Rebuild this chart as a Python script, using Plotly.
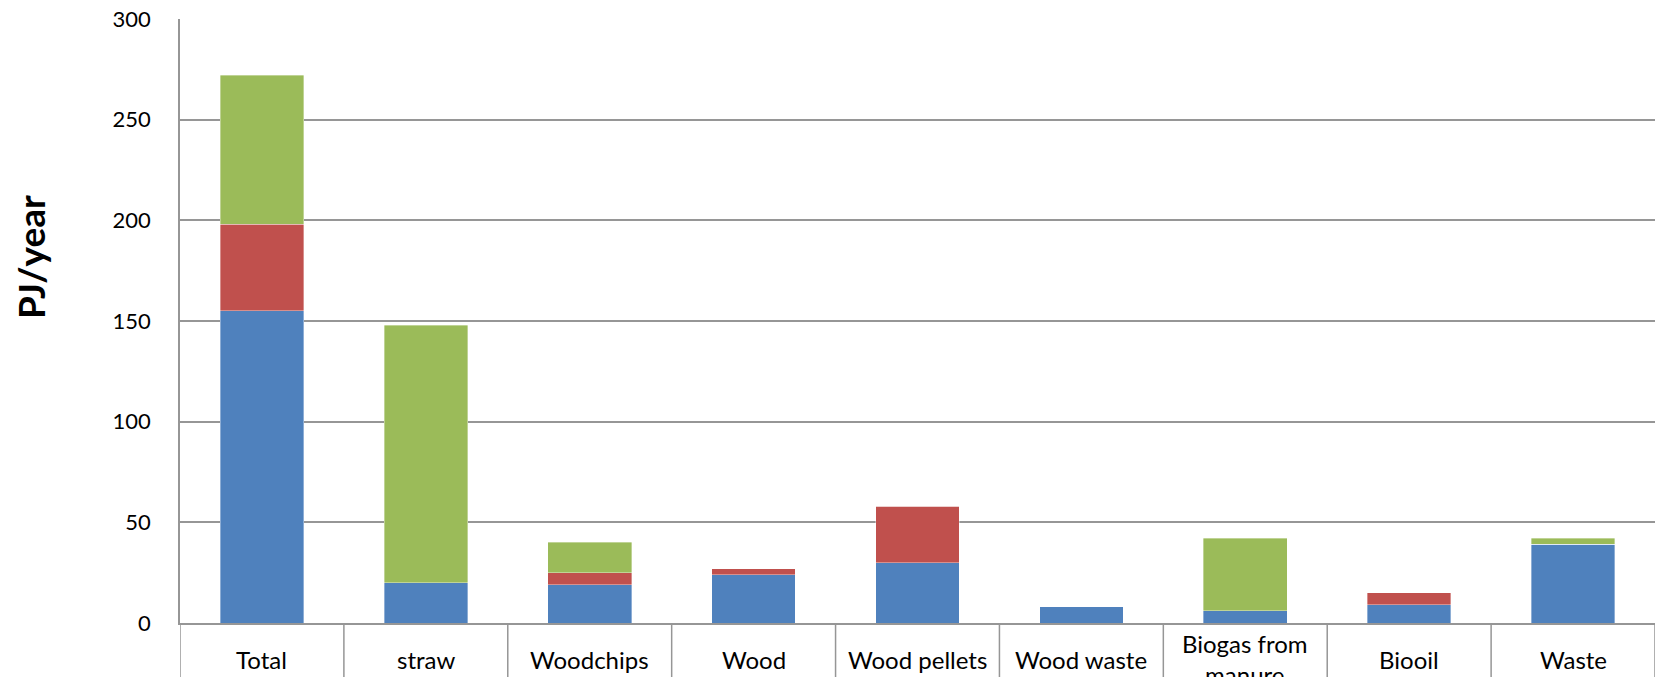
import plotly.graph_objects as go

categories = ["Total", "straw", "Woodchips", "Wood", "Wood pellets",
              "Wood waste", "Biogas from<br>manure", "Biooil", "Waste"]
series_blue = [155, 20, 19, 24, 30, 8, 6, 9, 39]
series_red = [43, 0, 6, 3, 28, 0, 0, 6, 0]
series_green = [74, 128, 15, 0, 0, 0, 36, 0, 3]
y_ticks = [0, 50, 100, 150, 200, 250, 300]

FONT = "Lato, 'Open Sans', sans-serif"
GRID = "#969696"
W, H = 1661, 677
ML, MR, MT, MB = 180, 6, 19, 54

x_idx = list(range(len(categories)))

fig = go.Figure()
for name, vals, color in [("Series 1", series_blue, "#4F81BD"),
                          ("Series 2", series_red, "#C0504D"),
                          ("Series 3", series_green, "#9BBB59")]:
    fig.add_trace(go.Bar(
        x=x_idx, y=vals, name=name, width=0.51,
        marker=dict(color=color, line=dict(color="rgba(255,255,255,0.6)", width=0.6)),
    ))

# category table cells below the axis
shapes = []
cell_depth = 60 / (H - MT - MB)
for b in [i - 0.5 for i in range(len(categories) + 1)]:
    shapes.append(dict(type="line", xref="x", yref="paper", x0=b, x1=b,
                       y0=0, y1=-cell_depth, line=dict(color=GRID, width=1.5)))

annotations = []
label_y = -(659 - (H - MB)) / (H - MT - MB)
for i, c in enumerate(categories):
    annotations.append(dict(x=i, y=label_y, xref="x", yref="paper", text=c,
                            showarrow=False, xanchor="center", yanchor="middle",
                            font=dict(family=FONT, size=24, color="black")))
annotations.append(dict(x=(30 - ML) / (W - ML - MR), y=1 - (257 - MT) / (H - MT - MB),
                        xref="paper", yref="paper", text="<b>PJ/year</b>",
                        textangle=-90, showarrow=False, xanchor="center", yanchor="middle",
                        font=dict(family=FONT, size=37, color="black")))

fig.update_layout(
    width=W, height=H, barmode="stack", showlegend=False,
    margin=dict(l=ML, r=MR, t=MT, b=MB, pad=0),
    plot_bgcolor="white", paper_bgcolor="white",
    shapes=shapes, annotations=annotations,
    xaxis=dict(range=[-0.5, len(categories) - 0.5], showticklabels=False,
               showgrid=False, zeroline=False, showline=True,
               linecolor=GRID, linewidth=1.5, mirror=False, ticks=""),
    yaxis=dict(range=[0, 300], tickvals=y_ticks, showgrid=True,
               gridcolor=GRID, gridwidth=1.5, zeroline=False,
               showline=True, linecolor=GRID, linewidth=1.5, ticks="",
               ticklabelstandoff=23,
               tickfont=dict(family=FONT, size=22, color="black")),
)

fig.write_html("out.html")
